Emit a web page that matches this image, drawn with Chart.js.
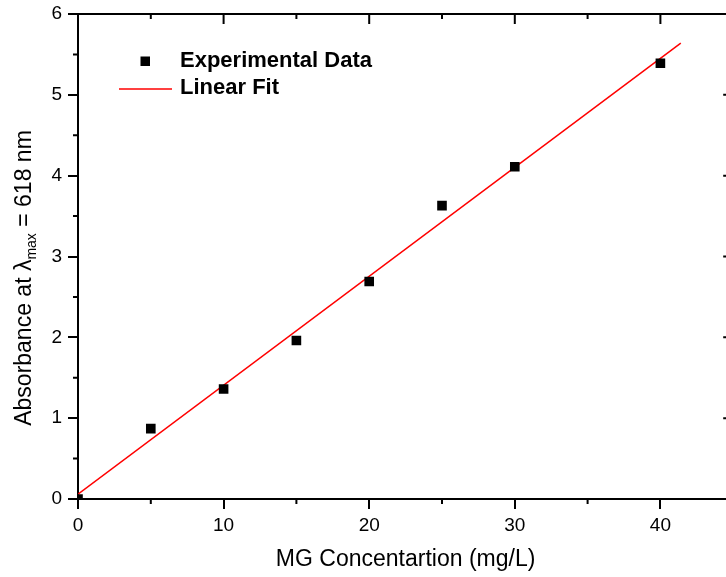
<!DOCTYPE html>
<html>
<head>
<meta charset="utf-8">
<script src="https://cdn.jsdelivr.net/npm/chart.js@4/dist/chart.umd.min.js"></script>
<style>
html,body{margin:0;padding:0;overflow:hidden;background:#fff;width:726px;height:577px}
canvas{display:block}
</style>
</head>
<body>
<canvas id="c" width="740" height="577"></canvas>
<script>
// data
const concentration=[0,5,10,15,20,25,30,40];
const absorbance=[0,0.87,1.36,1.96,2.69,3.63,4.11,5.39];
const fitX=[0,41.4];
const fitY=[0.06,5.64];
const xTicks=[0,10,20,30,40];
const xMinor=[5,15,25,35];
const yTicks=[0,1,2,3,4,5,6];
const yMinor=[0.5,1.5,2.5,3.5,4.5,5.5];

const FONT="Arial, 'Liberation Sans', sans-serif";

// top/right frame, minor ticks, legend, y title with subscript
const extras={
  id:'extras',
  afterDraw(chart){
    const {ctx,chartArea:a,scales:{x,y}}=chart;
    ctx.save();
    ctx.strokeStyle='#000';ctx.lineWidth=2;
    ctx.beginPath();
    ctx.moveTo(a.left-1,a.top);ctx.lineTo(a.right,a.top);ctx.lineTo(a.right,a.bottom);
    xTicks.forEach(v=>{const p=x.getPixelForValue(v);ctx.moveTo(p,a.top);ctx.lineTo(p,a.top+10);});
    xMinor.forEach(v=>{const p=x.getPixelForValue(v);
      ctx.moveTo(p,a.top);ctx.lineTo(p,a.top+5);
      ctx.moveTo(p,a.bottom);ctx.lineTo(p,a.bottom+5);});
    yTicks.forEach(v=>{const p=y.getPixelForValue(v);ctx.moveTo(a.right,p);ctx.lineTo(a.right-10,p);});
    yMinor.forEach(v=>{const p=y.getPixelForValue(v);
      ctx.moveTo(a.left,p);ctx.lineTo(a.left-5,p);
      ctx.moveTo(a.right,p);ctx.lineTo(a.right-5,p);});
    ctx.stroke();

    // legend
    ctx.font="bold 22px "+FONT;ctx.textBaseline='middle';ctx.textAlign='left';
    chart.data.datasets.forEach((ds,i)=>{
      const ly=61+i*27;
      if(ds.showLine){
        ctx.strokeStyle=ds.borderColor;ctx.lineWidth=ds.borderWidth;
        ctx.beginPath();ctx.moveTo(119,ly+1);ctx.lineTo(172,ly+1);ctx.stroke();
      }else{
        ctx.fillStyle=ds.backgroundColor;ctx.fillRect(140.5,ly-4.5,9.5,9.5);
      }
      ctx.fillStyle='#000';ctx.fillText(ds.label,180,ly);
    });

    // y title
    const parts=[["Absorbance at \u03bb",23,0],["max",14,5],[" = 618 nm",23,0]];
    let total=0;
    parts.forEach(p=>{ctx.font=p[1]+"px "+FONT;p.push(ctx.measureText(p[0]).width);total+=p[3];});
    ctx.textBaseline='alphabetic';
    ctx.translate(31,278);ctx.rotate(-Math.PI/2);
    let cx=-total/2;
    parts.forEach(p=>{ctx.font=p[1]+"px "+FONT;ctx.fillText(p[0],cx,p[2]);cx+=p[3];});
    ctx.restore();
  }
};

new Chart(document.getElementById('c'),{
  type:'scatter',
  data:{datasets:[
    {label:'Experimental Data',data:concentration.map((v,i)=>({x:v,y:absorbance[i]})),
     pointStyle:'rect',pointRadius:6.8,pointHoverRadius:6.8,backgroundColor:'#000',borderColor:'#000',borderWidth:0,clip:0},
    {label:'Linear Fit',data:fitX.map((v,i)=>({x:v,y:fitY[i]})),showLine:true,
     borderColor:'#ff0000',backgroundColor:'#ff0000',borderWidth:1.5,pointRadius:0,fill:false}
  ]},
  options:{
    responsive:false,animation:false,
    layout:{padding:{top:14,right:4,left:0,bottom:0}},
    plugins:{legend:{display:false},tooltip:{enabled:false}},
    scales:{
      x:{type:'linear',min:0,max:45,
        afterBuildTicks:s=>{s.ticks=xTicks.map(v=>({value:v}));},
        afterFit:s=>{s.height=78;s.paddingLeft=0;s.paddingRight=0;},
        grid:{drawOnChartArea:false,tickLength:10,lineWidth:2,color:'#000'},
        border:{color:'#000',width:2},
        ticks:{color:'#000',font:{family:FONT,size:19},padding:5,maxRotation:0,autoSkip:false},
        title:{display:true,text:'MG Concentartion (mg/L)',color:'#000',font:{family:FONT,size:23},padding:{top:0,bottom:4}}},
      y:{min:0,max:6,
        afterBuildTicks:s=>{s.ticks=yTicks.map(v=>({value:v}));},
        afterFit:s=>{s.width=78;s.paddingTop=0;s.paddingBottom=0;},
        grid:{drawOnChartArea:false,tickLength:10,lineWidth:2,color:'#000'},
        border:{color:'#000',width:2},
        ticks:{color:'#000',font:{family:FONT,size:19},padding:6}}
    }
  },
  plugins:[extras]
});
</script>
</body>
</html>
